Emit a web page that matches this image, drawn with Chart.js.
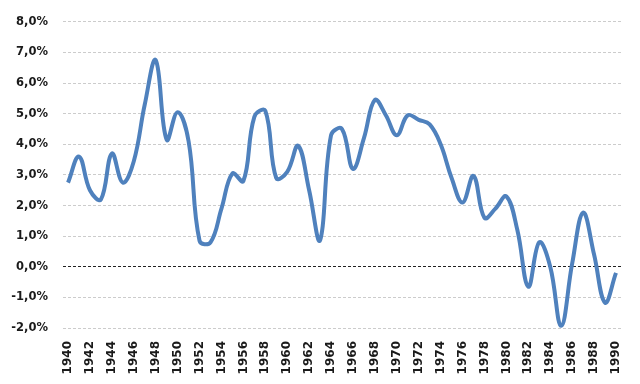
<!DOCTYPE html>
<html>
<head>
<meta charset="utf-8">
<script src="https://cdn.jsdelivr.net/npm/chart.js@4"></script>
<style>
  html, body { margin: 0; padding: 0; background: #fff; }
  #wrap { width: 640px; height: 384px; }
</style>
</head>
<body>
<div id="wrap"><canvas id="chart"></canvas></div>
<script>
const years = [
  1940, 1941, 1942, 1943, 1944, 1945, 1946, 1947, 1948, 1949,
  1950, 1951, 1952, 1953, 1954, 1955, 1956, 1957, 1958, 1959,
  1960, 1961, 1962, 1963, 1964, 1965, 1966, 1967, 1968, 1969,
  1970, 1971, 1972, 1973, 1974, 1975, 1976, 1977, 1978, 1979,
  1980, 1981, 1982, 1983, 1984, 1985, 1986, 1987, 1988, 1989,
  1990
];
const growth = [
  2.75, 3.6, 2.5, 2.2, 3.7, 2.75, 3.45, 5.3, 6.75, 4.15,
  5.05, 4.1, 0.85, 0.8, 1.9, 3.05, 2.8, 4.9, 5.1, 2.9,
  3.1, 3.95, 2.5, 0.87, 4.3, 4.5, 3.2, 4.2, 5.45, 4.95,
  4.3, 4.95, 4.8, 4.65, 4.0, 2.9, 2.1, 2.97, 1.6, 1.9,
  2.3, 1.2, -0.65, 0.8, 0.0, -1.93, 0.1, 1.77, 0.4, -1.17,
  -0.2
];
const yMin = -2, yMax = 8;

const labelFont = { family: 'DejaVu Sans', size: 11.5, weight: 'bold' };

const ctx = document.getElementById('chart').getContext('2d');
new Chart(ctx, {
  type: 'line',
  data: {
    datasets: [{
      data: years.map((y, i) => ({ x: y, y: growth[i] })),
      borderColor: '#4F81BD',
      borderWidth: 4,
      tension: 0.4,
      pointRadius: 0,
      fill: false
    }]
  },
  options: {
    responsive: true,
    maintainAspectRatio: false,
    animation: false,
    layout: { padding: { top: 19, right: 17, bottom: 4, left: 0 } },
    scales: {
      x: {
        type: 'linear',
        min: 1939.54,
        max: 1990.64,
        grid: { display: false },
        border: { display: false },
        afterFit: (scale) => { scale.height = 52; },
        ticks: {
          stepSize: 2,
          includeBounds: false,
          autoSkip: false,
          minRotation: 90,
          maxRotation: 90,
          padding: 5,
          color: '#1a1a1a',
          font: { family: 'DejaVu Sans', size: 12, weight: 'bold' },
          callback: (v) => String(v)
        }
      },
      y: {
        min: yMin,
        max: yMax,
        afterFit: (scale) => { scale.width = 63; },
        grid: {
          drawTicks: false,
          color: (c) => (c.tick && c.tick.value === 0 ? '#222222' : '#cccccc'),
          lineWidth: 1
        },
        border: { display: false, dash: [3, 2] },
        ticks: {
          stepSize: 1,
          padding: 15,
          color: '#1a1a1a',
          font: labelFont,
          callback: (v) => v.toFixed(1).replace('.', ',') + '%'
        }
      }
    },
    plugins: {
      legend: { display: false },
      tooltip: { enabled: false }
    }
  }
});
</script>
</body>
</html>
